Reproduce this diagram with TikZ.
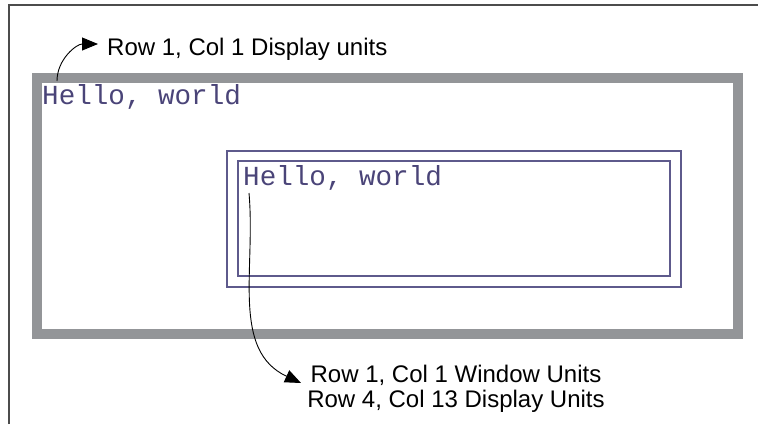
\documentclass[tikz,border=0pt]{standalone}
\usepackage{fontspec}
\setmainfont{Liberation Sans}
\newfontfamily\codefont{Liberation Mono}
\usetikzlibrary{arrows.meta}
\definecolor{framegray}{HTML}{939598}
\definecolor{winblue}{HTML}{5E5A8C}
\definecolor{textblue}{HTML}{4A4478}

\begin{document}
\begin{tikzpicture}[x=1pt,y=-1pt,font=\fontsize{24}{25}\selectfont]
  \useasboundingbox (0,0) rectangle (758,424);
  \tikzset{code/.style={anchor=base west,inner sep=0,textblue,font=\codefont\fontsize{27.6}{28}\selectfont},
           pointer/.style={-{Triangle[length=16pt,width=13pt]},line width=0.9pt}}
  % ---------------- page edge ----------------
  \draw[line width=1.5pt,black!70] (9,424) -- (9,5) -- (758,5);
  % ---------------- display ----------------
  \draw[framegray,line width=10pt] (37,78) rectangle (738,334);
  \node[code] (hello1) at (42,104) {Hello, world};
  % ---------------- window ----------------
  \draw[winblue,line width=1.2pt] (227,151) rectangle (681,287);
  \draw[winblue,line width=1.2pt] (238,161) rectangle (670,276);
  \node[code] (hello2) at (243,185) {Hello, world};
  % ---------------- labels ----------------
  \node[anchor=base west,inner sep=0] (disp) at (107,55) {Row 1, Col 1 Display units};
  \node[anchor=base,inner sep=0,align=center] (win) at (456,407) {Row 1, Col 1 Window Units\\Row 4, Col 13 Display Units};
  \coordinate (s1) at (57,81);
  \coordinate (t1) at (98,44);
  \coordinate (s2) at (249,193);
  \coordinate (t2) at (301,383);
  \draw[pointer] (s1) to[out=90,in=180] (t1);
  \draw[pointer] (s2) to[out=-85,in=155] (t2);
\end{tikzpicture}
\end{document}
